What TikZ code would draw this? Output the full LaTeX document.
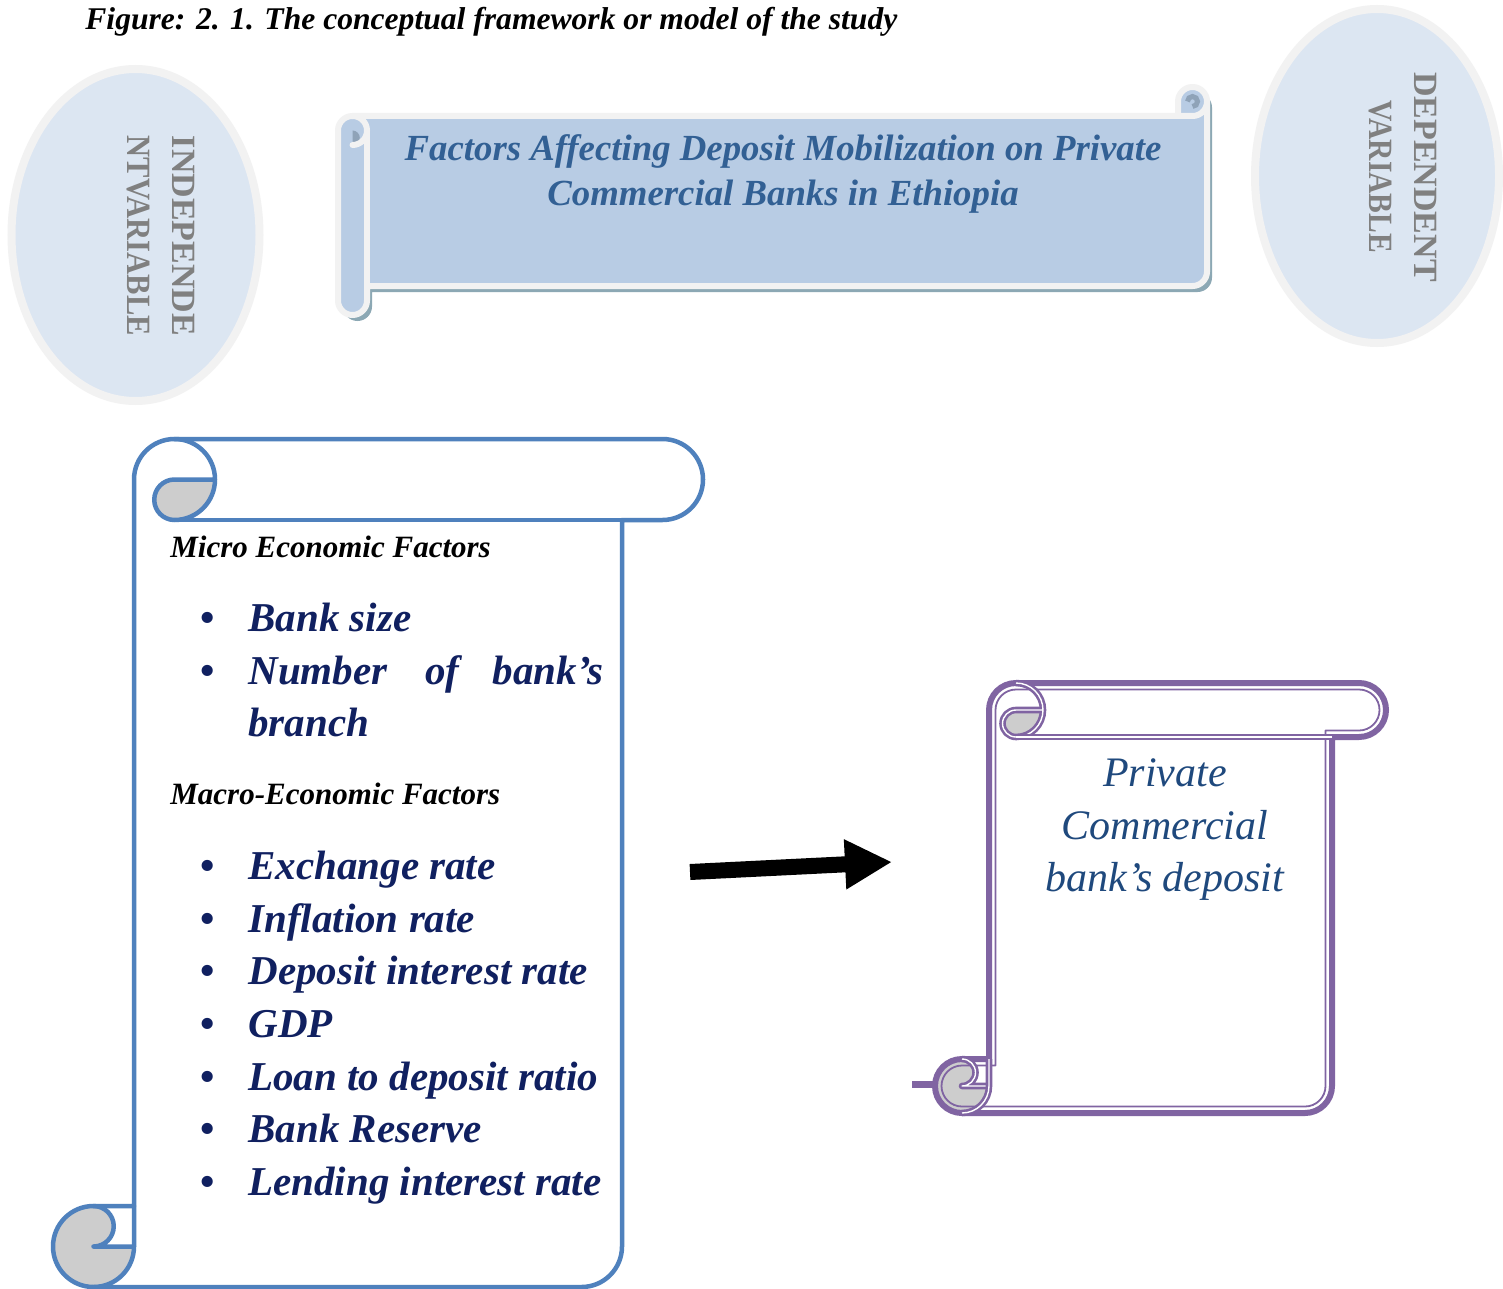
\documentclass[tikz,border=0pt]{standalone}
\usepackage{fontspec}
\setmainfont{Liberation Serif}
\usetikzlibrary{arrows.meta}
\definecolor{lblue}{RGB}{79,129,189}
\definecolor{purp}{RGB}{128,100,162}
\definecolor{curlgrey}{RGB}{205,205,205}
\definecolor{navy}{RGB}{16,32,96}
\definecolor{bannerfill}{RGB}{184,204,228}
\definecolor{bannerline}{RGB}{242,242,242}
\definecolor{bannershadow}{RGB}{140,168,180}
\definecolor{ellfill}{RGB}{220,230,242}
\definecolor{titleblue}{RGB}{50,96,148}
\definecolor{depblue}{RGB}{31,73,125}
\definecolor{txtgrey}{RGB}{128,128,128}
\definecolor{darkcurl}{RGB}{143,163,184}
\newcommand\bannerpathcmd[1]{\path[#1] (338,130.5) arc[start angle=180,end angle=270,radius=14.5] -- (1178,116) -- (1178,101.5) arc[start angle=180,end angle=360,radius=14.5] -- (1207,271.5) arc[start angle=0,end angle=90,radius=14.5] -- (367,286) -- (367,300.5) arc[start angle=0,end angle=180,radius=14.5] -- cycle;}
\newcommand\lscrollpath[1]{\path[#1] (134,1206) -- (134,479.5) arc[start angle=180,end angle=270,radius=40.5] -- (662.5,439) arc[start angle=270,end angle=450,radius=40.5] -- (622,520) -- (622,1246.5) arc[start angle=0,end angle=90,radius=40.5] -- (93.5,1287) arc[start angle=90,end angle=270,radius=40.5] -- cycle;}
\newcommand\rscrollpath[1]{\path[#1] (989,1059) -- (989,710) arc[start angle=180,end angle=270,radius=27] -- (1359,683) arc[start angle=270,end angle=450,radius=27] -- (1332,737) -- (1332,1086) arc[start angle=0,end angle=90,radius=27] -- (962,1113) arc[start angle=90,end angle=270,radius=27] -- cycle;}
\begin{document}
\begin{tikzpicture}[x=0.5pt,y=-0.5pt,
  lsc/.style={draw=lblue,line width=2.25pt,line cap=round,line join=round},
  psc/.style={draw=purp,line width=1.3pt,double=white,double distance=0.7pt,line join=round},
  ellstyle/.style={fill=ellfill,draw=bannerline,line width=4pt},
  item/.style={anchor=base west,inner sep=0,text=navy,font=\fontsize{20.5}{25}\selectfont\bfseries\itshape},
  bul/.style={anchor=base,inner sep=0,text=navy,font=\fontsize{20.5}{25}\selectfont\bfseries},
  head/.style={anchor=base west,inner sep=0,text=black,font=\fontsize{15.5}{19}\selectfont\bfseries\itshape}]
\useasboundingbox (0,0) rectangle (1503,1289);
\fill[white] (0,0) rectangle (1503,1289);

% caption
\node[anchor=base west,inner sep=0,font=\fontsize{15.8}{19}\selectfont\bfseries\itshape] (cap) at (85,30) {Figure: 2. 1. The conceptual framework or model of the study};

% ellipses
\draw[ellstyle] (135.5,235) ellipse[x radius=124, y radius=166];
\node[rotate=-90,align=left,inner sep=0,text=txtgrey,font=\fontsize{17}{22.5}\selectfont\bfseries] (indep) at (161,236) {INDEPENDE\\\scalebox{0.9}[1]{NTVARIABLE}};
\draw[ellstyle] (1377,176) ellipse[x radius=122, y radius=167];
\node[rotate=-90,align=center,inner sep=0,text=txtgrey,font=\fontsize{17}{22.5}\selectfont\bfseries] (dep) at (1403,177) {DEPENDENT\\\scalebox{0.87}[1]{VARIABLE}};

% banner (horizontal scroll)
\begin{scope}[shift={(5,6)}]
\bannerpathcmd{fill=bannershadow}
\end{scope}
\bannerpathcmd{fill=bannerfill,draw=bannerline,line width=3pt,line join=round}
\fill[darkcurl] (352.5,130.5) arc[start angle=270,end angle=450,radius=7.25] -- cycle;
\draw[bannerline,line width=3pt,line cap=round] (352.5,116) arc[start angle=270,end angle=450,radius=14.5];
\draw[bannerline,line width=3pt] (367,130.5) -- (367,286);
\draw[darkcurl,line width=2.5pt] (1187.5,101.5) arc[start angle=180,end angle=450,radius=5];
\draw[bannerline,line width=3pt,line cap=round] (1207,101.5) arc[start angle=0,end angle=90,radius=14.5] -- (1178,116);
\node[align=center,inner sep=0,text=titleblue,font=\fontsize{18.4}{22.5}\selectfont\bfseries\itshape] (title) at (783,174) {Factors Affecting Deposit Mobilization on Private\\Commercial Banks in Ethiopia};

% left scroll
\lscrollpath{fill=white}
\fill[curlgrey] (215,479.5) arc[start angle=0,end angle=90,radius=40.5] arc[start angle=90,end angle=270,radius=20.25] -- cycle;
\fill[curlgrey] (93.5,1206) arc[start angle=270,end angle=450,radius=20.25] -- (134,1246.5) arc[start angle=0,end angle=270,radius=40.5] -- cycle;
\lscrollpath{lsc}
\draw[lsc] (174.5,439) arc[start angle=270,end angle=450,radius=40.5] arc[start angle=90,end angle=270,radius=20.25] -- (215,479.5);
\draw[lsc] (622,520) -- (174.5,520);
\draw[lsc] (93.5,1206) arc[start angle=270,end angle=450,radius=20.25] -- (134,1246.5);
\draw[lsc] (93.5,1287) arc[start angle=90,end angle=0,radius=40.5] -- (134,1206);

\node[head] (micro) at (170,557) {Micro Economic Factors};
\node[bul] (b1) at (208,631) {•};
\node[item] (i1) at (248,631) {Bank size};
\node[bul] (b2) at (208,684) {•};
\node[item] (i2a) at (248,684) {Number};
\node[item] (i2b) at (425,684) {of};
\node[item,anchor=base east] (i2c) at (604,684) {bank’s};
\node[item] (i2d) at (248,736) {branch};
\node[head] (macro) at (170,804) {Macro-Economic Factors};
\node[bul] (b3) at (208,879) {•};
\node[item] (i3) at (248,879) {Exchange rate};
\node[bul] (b4) at (208,932) {•};
\node[item] (i4) at (248,932) {Inflation rate};
\node[bul] (b5) at (208,984) {•};
\node[item] (i5) at (248,984) {Deposit interest rate};
\node[bul] (b6) at (208,1037) {•};
\node[item] (i6) at (248,1037) {GDP};
\node[bul] (b7) at (208,1090) {•};
\node[item] (i7) at (248,1090) {Loan to deposit ratio};
\node[bul] (b8) at (208,1142) {•};
\node[item] (i8) at (248,1142) {Bank Reserve};
\node[bul] (b9) at (208,1195) {•};
\node[item] (i9) at (248,1195) {Lending interest rate};

% right scroll
\draw[purp,line width=3.5pt] (912,1084) -- (950,1084);
\rscrollpath{fill=white}
\fill[curlgrey] (1043,710) arc[start angle=0,end angle=90,radius=27] arc[start angle=90,end angle=270,radius=13.5] -- cycle;
\fill[curlgrey] (962,1059) arc[start angle=270,end angle=450,radius=13.5] -- (989,1086) arc[start angle=0,end angle=270,radius=27] -- cycle;
\rscrollpath{draw=purp,line width=3pt,line join=round}
\draw[purp,line width=0.9pt,line join=round] (995.5,1065.5) -- (995.5,710) arc[start angle=180,end angle=270,radius=20.5] -- (1359,689.5) arc[start angle=270,end angle=450,radius=20.5] -- (1325.5,730.5) -- (1325.5,1086) arc[start angle=0,end angle=90,radius=20.5] -- (962,1106.5) arc[start angle=90,end angle=270,radius=20.5] -- cycle;
\draw[psc] (1016,683) arc[start angle=270,end angle=450,radius=27] arc[start angle=90,end angle=270,radius=13.5] -- (1043,710);
\draw[psc] (1332,737) -- (1016,737);
\draw[psc] (962,1059) arc[start angle=270,end angle=450,radius=13.5] -- (989,1086);
\draw[psc] (962,1113) arc[start angle=90,end angle=0,radius=27] -- (989,1059);
\node[align=center,inner sep=0,text=depblue,font=\fontsize{21}{26.25}\selectfont\itshape] (deposit) at (1165,830) {Private\\Commercial\\bank’s deposit};

% arrow
\coordinate (arrS) at (690,872);
\coordinate (arrE) at (892,862);
\draw[line width=8pt,-{Triangle[length=23.5pt,width=23.5pt]}] (arrS) -- (arrE);
\end{tikzpicture}
\end{document}
